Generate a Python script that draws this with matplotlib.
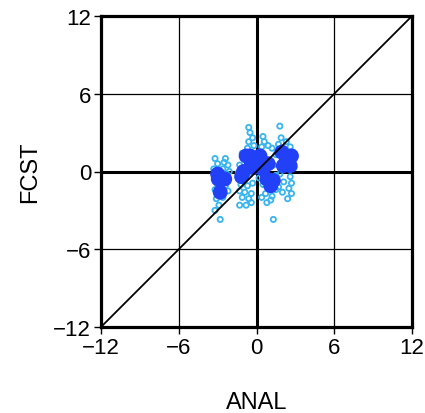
import matplotlib
matplotlib.use("Agg")
import matplotlib.pyplot as plt

# light cyan open-circle points (ANAL, FCST)
cyan_x = [-3.2, -2.4, -3.0, -2.2, -3.3, -2.6, -2.1, -3.2, -2.3, -3.0, -2.4, -3.2,
          -2.2, -2.6, -3.1, -2.9, -3.2, -2.8, -2.5,
          -1.3, -0.8, -1.4, -0.6, -1.2, -0.7, -0.3, -1.3, -0.9, -0.4, -1.1, -0.6,
          -1.3, -0.8, -0.4,
          -0.6, -0.5, -0.3, -0.6, -0.2, -0.7, -1.1,
          0.5, 0.6, 0.9, 0.4, 1.2, 1.5, 0.3, 1.3, 0.6, 1.5, 0.5, 1.0, 1.5, 0.7,
          1.2, 0.4, 1.1, 0.8, 1.3, 0.2,
          1.8, 1.9, 2.3, 1.7, 2.6, 2.8, 2.2, 2.9, 1.8, 2.6, 2.1, 2.7, 1.7, 2.5,
          2.0, 2.4, 2.7]
cyan_y = [1.0, 1.0, 0.6, 0.5, 0.2, 0.2, 0.0, -0.3, -0.2, -1.0, -1.1, -1.4,
          -1.5, -2.0, -2.1, -2.6, -3.0, -3.7, 0.7,
          0.5, 0.4, -0.1, -0.2, -1.0, -1.1, -0.9, -1.5, -1.6, -1.7, -2.0, -2.1,
          -2.6, -2.6, -2.4,
          3.4, 3.0, 2.6, 2.3, 2.0, 1.8, 1.4,
          2.7, 2.3, 2.0, 1.9, 1.8, 1.3, 0.8, 0.5, -0.1, -0.3, -1.0, -1.3, -1.4,
          -1.7, -1.9, -2.0, -2.2, -2.4, -3.7, -0.5,
          3.5, 2.6, 2.3, 2.1, 1.9, 1.5, 0.9, 0.3, -0.2, -0.4, -0.8, -0.9, -1.2,
          -1.3, -1.6, -2.1, -1.7]

# blue filled points (ANAL, FCST)
blue_x = [-2.95, -2.45, -2.8, -1.15, -0.5, 0.27, -0.2, 0.8, 1.3, 1.95, 2.7,
          2.07, 2.6, 0.9, -0.8, -3.0, -1.0, 0.1, 1.1, 2.3, -0.4, 0.5]
blue_y = [-0.58, -0.58, -1.6, -0.4, 1.2, 1.2, 0.3, -0.58, -0.7, 1.5, 1.2,
          0.45, 0.45, 0.6, 1.2, -0.2, 0.0, 0.8, -1.1, 0.9, 0.7, 0.2]

ticks = [-12, -6, 0, 6, 12]
tick_labels = ["\u221212", "\u22126", "0", "6", "12"]

plt.rcParams['font.family'] = ['Liberation Sans', 'DejaVu Sans']

fig = plt.figure(figsize=(4.25, 4.14), dpi=100)
ax = fig.add_axes([101/425, 86/414, 311/425, 311/414])
ax.set_xlim(-12, 12)
ax.set_ylim(-12, 12)

for t in ticks[1:-1]:
    lw = 2.2 if t == 0 else 0.9
    ax.axvline(t, color='black', lw=lw, zorder=1)
    ax.axhline(t, color='black', lw=lw, zorder=1)

ax.scatter(cyan_x, cyan_y, s=14, facecolors='none', edgecolors='#38b4ee',
           linewidths=1.3, zorder=2)
ax.scatter(blue_x, blue_y, s=115, color='#2240f5', edgecolors='none', zorder=3)

ax.plot([-12, 12], [-12, 12], color='black', lw=1.3, zorder=4)

for s in ax.spines.values():
    s.set_linewidth(2.3)
    s.set_zorder(5)

ax.set_xticks(ticks)
ax.set_yticks(ticks)
ax.set_xticklabels(tick_labels)
ax.set_yticklabels(tick_labels)
ax.tick_params(direction='out', length=5, width=1, labelsize=16, pad=2)

ax.set_xlabel("ANAL", fontsize=17, labelpad=24)
ax.set_ylabel("FCST", fontsize=17, labelpad=9)

fig.savefig("out.png", dpi=100)
